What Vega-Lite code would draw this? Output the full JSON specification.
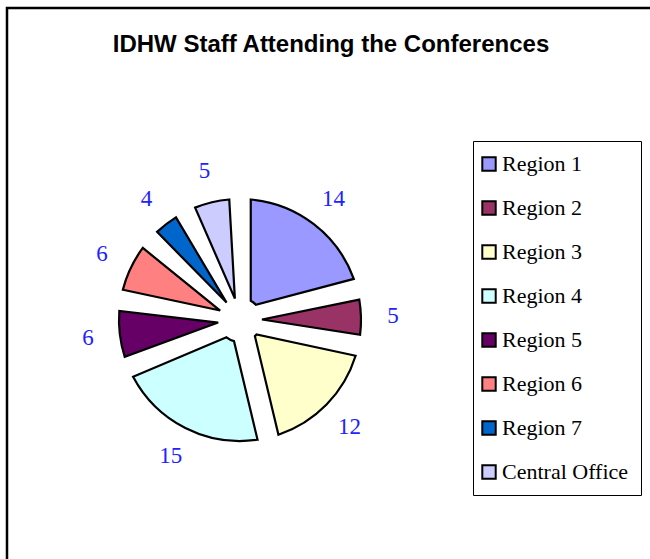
{
  "$schema": "https://vega.github.io/schema/vega-lite/v6.json",
  "width": 660,
  "height": 570,
  "autosize": "none",
  "padding": {"left": 7, "top": 8, "right": -17, "bottom": -19},
  "background": "white",
  "config": {
    "view": {"stroke": "black", "strokeWidth": 2.5},
    "font": "Liberation Serif"
  },
  "title": {
    "text": "IDHW Staff Attending the Conferences",
    "font": "Liberation Sans",
    "fontWeight": "bold",
    "fontSize": 24,
    "color": "black",
    "anchor": "middle",
    "baseline": "alphabetic",
    "offset": 0,
    "dx": -6,
    "dy": 68
  },
  "data": {
    "values": [
      {"k": 1, "region": "Region 1", "n": 14},
      {"k": 2, "region": "Region 2", "n": 5},
      {"k": 3, "region": "Region 3", "n": 12},
      {"k": 4, "region": "Region 4", "n": 15},
      {"k": 5, "region": "Region 5", "n": 6},
      {"k": 6, "region": "Region 6", "n": 6},
      {"k": 7, "region": "Region 7", "n": 4},
      {"k": 8, "region": "Central Office", "n": 5}
    ]
  },
  "encoding": {
    "theta": {"field": "n", "type": "quantitative", "stack": true},
    "order": {"field": "k", "type": "quantitative"},
    "x": {"value": 233},
    "y": {"value": 312}
  },
  "layer": [
    {
      "mark": {"type": "arc", "outerRadius": 121, "innerRadius": 22, "padAngle": 0.175, "stroke": "black", "strokeWidth": 2.2},
      "encoding": {
        "color": {
          "field": "region",
          "type": "nominal",
          "scale": {
            "domain": ["Region 1", "Region 2", "Region 3", "Region 4", "Region 5", "Region 6", "Region 7", "Central Office"],
            "range": ["#9999FF", "#993366", "#FFFFCC", "#CCFFFF", "#660066", "#FF8080", "#0066CC", "#CCCCFF"]
          },
          "legend": {
            "title": null,
            "orient": "none",
            "legendX": 466,
            "legendY": 133,
            "strokeColor": "black",
            "padding": 12,
            "symbolOffset": -7,
            "symbolType": "square",
            "symbolSize": 180,
            "symbolStrokeColor": "black",
            "symbolStrokeWidth": 2,
            "labelFont": "Liberation Serif",
            "labelFontSize": 22,
            "labelColor": "black",
            "labelOffset": 2,
            "rowPadding": 22,
            "labelLimit": 300
          }
        }
      }
    },
    {
      "mark": {"type": "text", "radius": 153, "font": "Liberation Serif", "fontSize": 23, "color": "#2222FF"},
      "encoding": {
        "text": {"field": "n", "type": "quantitative"}
      }
    }
  ]
}
